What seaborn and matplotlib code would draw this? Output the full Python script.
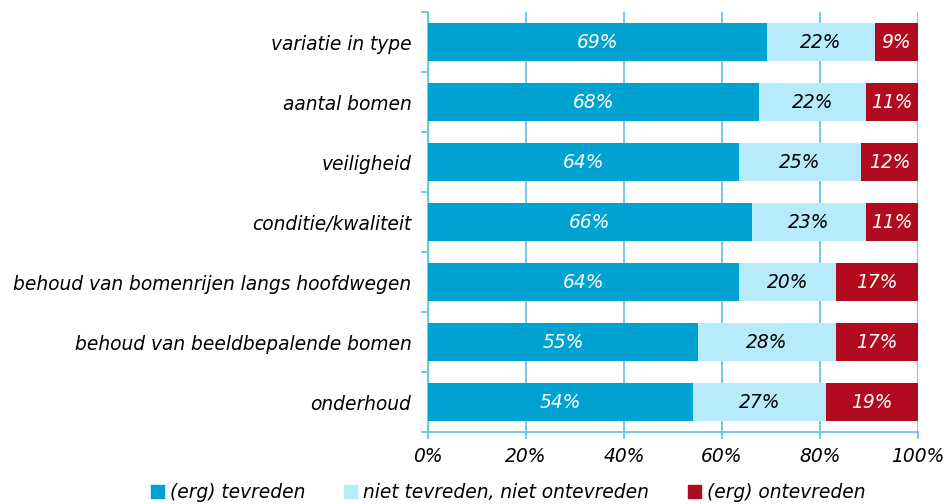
import numpy as np
import pandas as pd
import matplotlib
matplotlib.use("Agg")
import matplotlib.pyplot as plt
import seaborn as sns
from matplotlib.patches import Patch

categories = [
    "variatie in type",
    "aantal bomen",
    "veiligheid",
    "conditie/kwaliteit",
    "behoud van bomenrijen langs hoofdwegen",
    "behoud van beeldbepalende bomen",
    "onderhoud",
]
tevreden = [69.2, 67.6, 63.5, 66.1, 63.5, 55.1, 54.1]
neutraal = [22.0, 21.8, 24.9, 23.3, 19.8, 28.2, 27.1]
ontevreden = [8.8, 10.6, 11.6, 10.6, 16.7, 16.7, 18.8]
series_names = ["(erg) tevreden", "niet tevreden, niet ontevreden", "(erg) ontevreden"]

c_dark = "#00A2D1"
c_light = "#B8EBFA"
c_red = "#B20A1F"
c_grid = "#5CC1E3"

df = pd.DataFrame({"cat": categories, "t": tevreden, "n": neutraal, "o": ontevreden})
df["tn"] = df["t"] + df["n"]
df["tot"] = df["tn"] + df["o"]

sns.set_style("white")
plt.rcParams["font.family"] = ["DejaVu Sans"]
plt.rcParams["text.color"] = "black"
plt.rcParams["xtick.labelcolor"] = "black"
plt.rcParams["ytick.labelcolor"] = "black"

fig = plt.figure(figsize=(9.5, 5.04), dpi=100)
ax = fig.add_axes([428 / 950, 72 / 504, 490 / 950, 420 / 504])

# stacked bars by overlapping cumulative totals
sns.barplot(data=df, x="tot", y="cat", color=c_red, orient="h", width=0.63,
            saturation=1, ax=ax, zorder=3, linewidth=0)
sns.barplot(data=df, x="tn", y="cat", color=c_light, orient="h", width=0.63,
            saturation=1, ax=ax, zorder=4, linewidth=0)
sns.barplot(data=df, x="t", y="cat", color=c_dark, orient="h", width=0.63,
            saturation=1, ax=ax, zorder=5, linewidth=0)

fs = 13.4
for i, row in df.iterrows():
    ax.text(row["t"] / 2, i, f"{round(row['t'])}%", ha="center", va="center",
            color="white", style="italic", fontsize=fs, zorder=6)
    ax.text(row["t"] + row["n"] / 2, i, f"{round(row['n'])}%", ha="center", va="center",
            color="black", style="italic", fontsize=fs, zorder=6)
    ax.text(row["tn"] + row["o"] / 2, i, f"{round(row['o'])}%", ha="center", va="center",
            color="white", style="italic", fontsize=fs, zorder=6)

ax.set_xlim(0, 100)
ax.set_ylim(len(categories) - 0.5, -0.5)
ax.set_xticks(np.arange(0, 101, 20))
ax.set_xticklabels([f"{v}%" for v in range(0, 101, 20)], style="italic", fontsize=fs)
ax.set_yticks(range(len(categories)))
ax.set_yticklabels(categories, style="italic", fontsize=fs)
ax.set_yticks(np.arange(-0.5, len(categories), 1), minor=True)
ax.tick_params(axis="y", which="major", left=True, length=0, pad=12)
ax.tick_params(axis="y", which="minor", left=True, length=5, color=c_grid, width=1.2,
               direction="out")
ax.tick_params(axis="x", bottom=True, length=5, color=c_grid, width=1.2, direction="out", pad=6)
ax.set_xlabel("")
ax.set_ylabel("")

ax.grid(axis="x", color=c_grid, linewidth=1.2, zorder=1)
ax.set_axisbelow(True)
for s in ["top", "right"]:
    ax.spines[s].set_visible(False)
for s in ["left", "bottom"]:
    ax.spines[s].set_color(c_grid)
    ax.spines[s].set_linewidth(1.2)

handles = [Patch(color=c) for c in [c_dark, c_light, c_red]]
fig.legend(handles, series_names, loc="center", bbox_to_anchor=(0.535, 0.022), ncol=3,
           frameon=False, prop={"style": "italic", "size": fs}, handlelength=0.7,
           handleheight=0.7, handletextpad=0.3, columnspacing=2.1)

fig.savefig("out.png", dpi=100)
